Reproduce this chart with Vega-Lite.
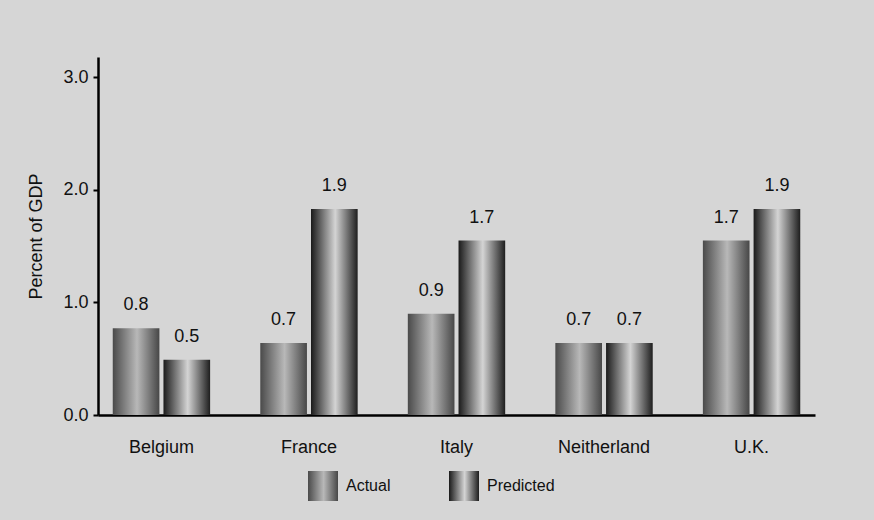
{
  "$schema": "https://vega.github.io/schema/vega-lite/v6.json",
  "autosize": {"type": "none"},
  "width": 717,
  "height": 358,
  "padding": {"left": 98, "top": 57, "right": 59, "bottom": 105},
  "background": "#d6d6d6",
  "config": {
    "view": {"stroke": null},
    "font": "Liberation Sans"
  },
  "data": {
    "values": [
      {"country": "Belgium", "series": "Actual", "value": 0.77, "label": "0.8"},
      {"country": "Belgium", "series": "Predicted", "value": 0.49, "label": "0.5"},
      {"country": "France", "series": "Actual", "value": 0.64, "label": "0.7"},
      {"country": "France", "series": "Predicted", "value": 1.83, "label": "1.9"},
      {"country": "Italy", "series": "Actual", "value": 0.9, "label": "0.9"},
      {"country": "Italy", "series": "Predicted", "value": 1.55, "label": "1.7"},
      {"country": "Neitherland", "series": "Actual", "value": 0.64, "label": "0.7"},
      {"country": "Neitherland", "series": "Predicted", "value": 0.64, "label": "0.7"},
      {"country": "U.K.", "series": "Actual", "value": 1.55, "label": "1.7"},
      {"country": "U.K.", "series": "Predicted", "value": 1.83, "label": "1.9"}
    ]
  },
  "encoding": {
    "x": {
      "field": "country",
      "type": "nominal",
      "sort": null,
      "scale": {"paddingInner": 0.34, "paddingOuter": 0.1},
      "axis": {
        "title": null,
        "labelAngle": 0,
        "labelFontSize": 18,
        "labelColor": "#111111",
        "labelPadding": 23,
        "ticks": false,
        "domainColor": "#000000",
        "domainWidth": 2.5
      }
    },
    "xOffset": {
      "field": "series",
      "type": "nominal",
      "scale": {"paddingInner": 0.08}
    },
    "y": {
      "field": "value",
      "type": "quantitative",
      "scale": {"domain": [0, 3.18], "nice": false},
      "axis": {
        "title": "Percent of GDP",
        "titleFontSize": 18,
        "titleFontWeight": "normal",
        "titleColor": "#111111",
        "titlePadding": 17,
        "values": [0, 1, 2, 3],
        "format": ".1f",
        "labelFontSize": 18,
        "labelColor": "#111111",
        "labelPadding": 5,
        "grid": false,
        "tickColor": "#000000",
        "tickWidth": 2,
        "tickSize": 5,
        "domainColor": "#000000",
        "domainWidth": 2.5
      }
    }
  },
  "layer": [
    {
      "mark": {
        "type": "bar",
        "fill": {"expr": "datum.series == 'Actual' ? {gradient: 'linear', x1: 0, y1: 0, x2: 1, y2: 0, stops: [{offset: 0, color: '#4a4a4a'}, {offset: 0.52, color: '#b8b8b8'}, {offset: 1, color: '#474747'}]} : {gradient: 'linear', x1: 0, y1: 0, x2: 1, y2: 0, stops: [{offset: 0, color: '#1a1a1a'}, {offset: 0.52, color: '#d4d4d4'}, {offset: 1, color: '#1e1e1e'}]}"}
      }
    },
    {
      "mark": {
        "type": "text",
        "baseline": "middle",
        "dy": -23,
        "fontSize": 18,
        "color": {"expr": "datum.country ? '#111111' : (datum.value == 'Actual' ? {gradient: 'linear', x1: 0, y1: 0, x2: 1, y2: 0, stops: [{offset: 0, color: '#4a4a4a'}, {offset: 0.52, color: '#b8b8b8'}, {offset: 1, color: '#474747'}]} : {gradient: 'linear', x1: 0, y1: 0, x2: 1, y2: 0, stops: [{offset: 0, color: '#1a1a1a'}, {offset: 0.52, color: '#d4d4d4'}, {offset: 1, color: '#1e1e1e'}]})"}
      },
      "encoding": {
        "text": {"field": "label"},
        "opacity": {
          "field": "series",
          "type": "ordinal",
          "scale": {"domain": ["Actual", "Predicted"], "range": [1, 1]},
          "legend": {
            "title": null,
            "orient": "none",
            "legendX": 210,
            "legendY": 414,
            "direction": "horizontal",
            "symbolType": "square",
            "symbolSize": 900,
            "symbolStrokeWidth": 0,
            "labelFontSize": 16,
            "labelColor": "#111111",
            "labelOffset": 8,
            "columnPadding": 58,
            "padding": 0
          }
        }
      }
    }
  ]
}
